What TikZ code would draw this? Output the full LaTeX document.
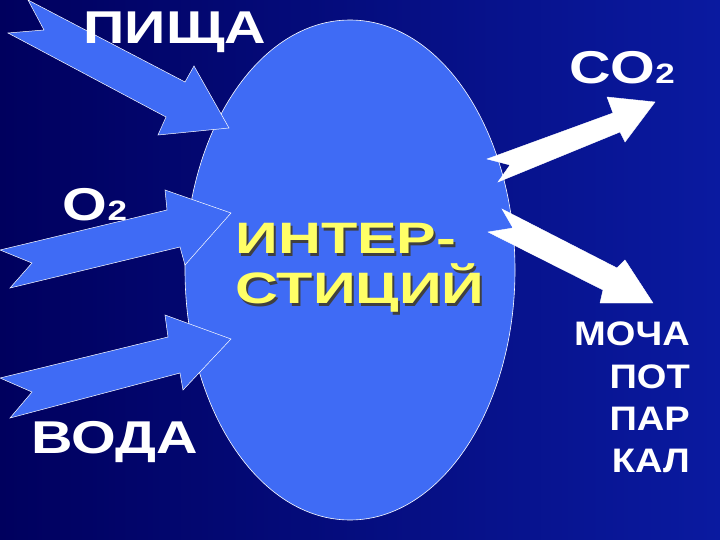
\documentclass[tikz,border=0pt]{standalone}
\usepackage{fontspec}
\setmainfont{Liberation Sans}
\newfontfamily\wideA[FakeStretch=1.25]{Liberation Sans}
\newfontfamily\wideB[FakeStretch=1.35]{Liberation Sans}
\newfontfamily\wideC[FakeStretch=1.12]{Liberation Sans}
\usetikzlibrary{shapes.geometric}
\definecolor{bgA}{HTML}{00005E}
\definecolor{bgB}{HTML}{0A1AA0}
\definecolor{cell}{HTML}{3F6BF5}
\definecolor{yel}{HTML}{FFFF66}
\tikzset{
  inarrow/.style={fill=cell,draw=white,line width=0.5pt},
  outarrow/.style={fill=white,draw=white},
  lbl/.style={text=white,font=\wideA\bfseries\fontsize{46}{46}\selectfont,inner sep=0},
  outlbl/.style={text=white,font=\wideC\bfseries\fontsize{34}{42.3}\selectfont,inner sep=0,align=right},
  intext/.style={font=\wideB\bfseries\fontsize{44}{50}\selectfont,align=left,inner sep=0},
}
\begin{document}
\begin{tikzpicture}[x=1pt,y=-1pt]
\useasboundingbox (0,0) rectangle (720,540);
\shade[left color=bgA,right color=bgB] (0,0) rectangle (720,540);
\node[ellipse,fill=cell,draw=white,line width=0.6pt,minimum width=330,minimum height=500,inner sep=0] (cell) at (350,270) {};
% incoming arrows
\draw[inarrow] (28,0) -- (44,30) -- (8,33) -- (166,117) -- (158,135) -- (229,128) -- (194,66) -- (185,82) -- cycle;
\draw[inarrow] (0,250) -- (32,263) -- (10,288) -- (180,247) -- (185,265) -- (231,213) -- (165,190) -- (167,210) -- cycle;
\draw[inarrow] (0,378) -- (32,392) -- (10,418) -- (180,373) -- (183,390) -- (231,339) -- (165,315) -- (168,337) -- cycle;
% outgoing arrows
\draw[outarrow] (487,159) -- (510,165) -- (498,182) -- (620,132) -- (625,142) -- (655,102) -- (607,97) -- (613,113) -- cycle;
\draw[outarrow] (502,209) -- (513,228) -- (488,232) -- (603,290) -- (600,303) -- (653,303) -- (625,260) -- (617,268) -- cycle;
% labels
\node[lbl] (food) at (175,32) {ПИЩА};
\node[lbl] (o2) at (95,205) {O{\fontsize{28}{28}\selectfont 2}};
\node[lbl] (water) at (115,442) {ВОДА};
\node[lbl] (co2) at (622,68) {CO{\fontsize{28}{28}\selectfont 2}};
\node[intext,text=black!75] (intershadow) at (362,271) {ИНТЕР-\\СТИЦИЙ};
\node[intext,text=yel] (inter) at (360,268) {ИНТЕР-\\СТИЦИЙ};
\node[outlbl,anchor=north east] (out) at (690,322) {МОЧА\\ПОТ\\ПАР\\КАЛ};
\end{tikzpicture}
\end{document}
